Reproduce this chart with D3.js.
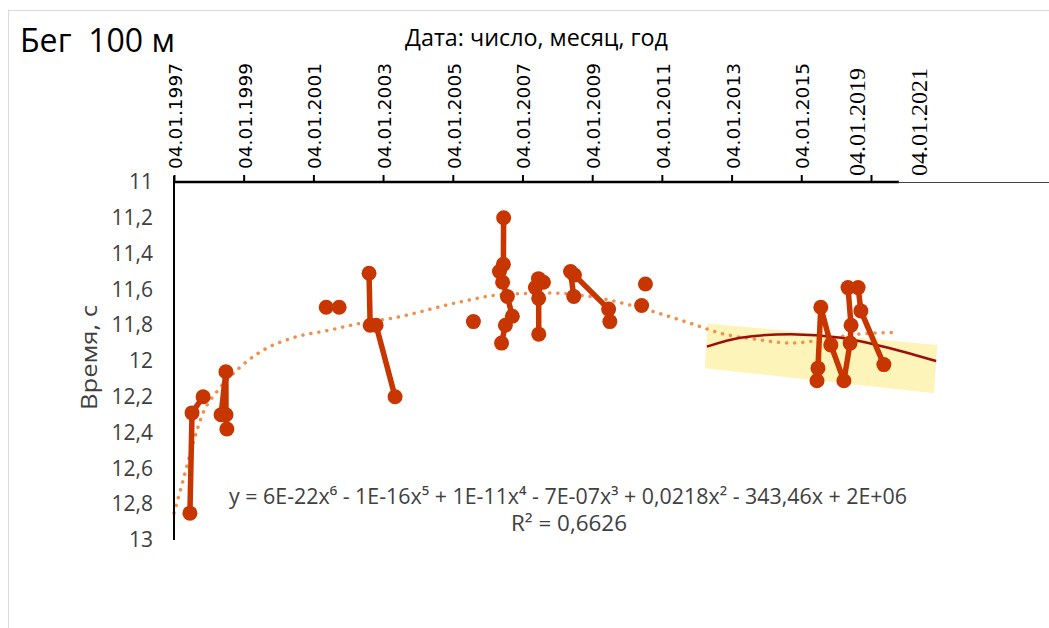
<!DOCTYPE html>
<html lang="ru">
<head>
<meta charset="utf-8">
<style>
  body { margin: 0; background: #fff; }
  svg { display: block; }
  .lbl { font-family: "Open Sans", "Liberation Sans", sans-serif; white-space: pre; }
</style>
<script src="https://d3js.org/d3.v7.min.js"></script>
</head>
<body>
<svg width="1049" height="628"></svg>
<script>
// results: date of the race and time, groups = separate line pieces
var dates = [
  "20.06.1997","12.07.1997","05.11.1997",
  "12.05.1998","02.07.1998","03.07.1998","12.07.1998",
  "18.05.2001","01.10.2001",
  "10.08.2002","22.08.2002","23.10.2002","10.05.2003",
  "08.08.2005",
  "30.05.2006","09.07.2006","20.09.2006","30.07.2006","10.06.2006","08.05.2006","18.06.2006","21.06.2006",
  "12.08.2007","21.06.2007","20.05.2007","23.06.2007","24.06.2007",
  "25.06.2008","22.05.2008","02.07.2008","25.06.2009","08.07.2009",
  "16.07.2010",
  "06.06.2010",
  "18.06.2015","28.06.2015","28.07.2015","10.11.2015","26.03.2016","30.05.2016","09.06.2016","08.05.2016","22.08.2016","20.09.2016","19.05.2017"
];
var times = [
  12.85, 12.29, 12.20,
  12.30, 12.06, 12.30, 12.38,
  11.70, 11.70,
  11.51, 11.80, 11.80, 12.20,
  11.78,
  11.90, 11.80, 11.75, 11.64, 11.56, 11.50, 11.46, 11.20,
  11.56, 11.54, 11.59, 11.65, 11.85,
  11.64, 11.50, 11.52, 11.71, 11.78,
  11.57,
  11.69,
  12.11, 12.04, 11.70, 11.91, 12.11, 11.90, 11.80, 11.59, 11.59, 11.72, 12.02
];
var groups = [
  1,1,1, 2,2,2,2, 3,3, 4,4,4,4, 5,
  6,6,6,6,6,6,6,6, 7,7,7,7,7, 8,8,8,8,8, 9, 10,
  11,11,11,11,11,11,11,11,11,11,11
];

// polynomial trend (6th order)
var trendDates = ["04.01.1997","08.04.1997","12.07.1997","05.11.1997","01.04.1998","27.10.1998","25.06.1999",
  "05.06.2000","30.05.2001","08.05.2002","20.04.2003","25.03.2005","19.05.2006","23.10.2007","01.04.2009",
  "09.09.2010","03.11.2011","16.10.2012","04.10.2013","16.09.2014","28.08.2015","22.08.2016","15.10.2017"];
var trendTimes = [12.85,12.67,12.48,12.29,12.17,12.05,11.95,11.87,11.83,11.79,11.76,11.67,11.63,11.62,11.65,
  11.72,11.79,11.85,11.88,11.90,11.88,11.85,11.84];

// last period trend (dark red) and highlight band
var fitDates = ["20.04.2012","08.04.2013","16.09.2014","25.02.2016","31.07.2017","18.11.2018"];
var fitTimes = [11.92, 11.87, 11.85, 11.87, 11.93, 12.00];
var bandDates = ["01.05.2012","28.11.2018","27.10.2018","28.03.2012"];
var bandTimes = [11.79, 11.91, 12.18, 12.04];

var tickDates = ["04.01.1997","04.01.1999","04.01.2001","04.01.2003","04.01.2005","04.01.2007",
  "04.01.2009","04.01.2011","04.01.2013","04.01.2015","04.01.2017"];
var tickLabels = ["04.01.1997","04.01.1999","04.01.2001","04.01.2003","04.01.2005","04.01.2007",
  "04.01.2009","04.01.2011","04.01.2013","04.01.2015",""];
var extraLabels = ["04.01.2019","04.01.2021"];
var extraLabelDates = ["01.08.2016","22.05.2018"];
var yTicks = [11, 11.2, 11.4, 11.6, 11.8, 12, 12.2, 12.4, 12.6, 12.8, 13];

var parse = d3.timeParse("%d.%m.%Y");
var ru = d3.formatLocale({decimal: ",", thousands: " ", grouping: [3], currency: ["", ""]});
var fmt = ru.format(".1~f");

var svg = d3.select("svg");

// chart area border
svg.append("rect").attr("x", 8.5).attr("y", 10.5).attr("width", 1100).attr("height", 700)
  .attr("fill", "#fff").attr("stroke", "#d9d9d9");

var x = d3.scaleTime().domain([parse("04.01.1997"), parse("04.01.2017")]).range([174, 871]);
var y = d3.scaleLinear().domain([11, 13]).range([182, 540]);
var xEnd = parse("23.10.2017");

var data = dates.map(function(d, i) { return {date: parse(d), t: times[i], g: groups[i]}; });

// band
svg.append("path")
  .datum(bandDates.map(function(d, i) { return [x(parse(d)), y(bandTimes[i])]; }))
  .attr("d", d3.line().curve(d3.curveLinearClosed))
  .attr("fill", "#fcf4b8");

// dotted trend
svg.append("path")
  .datum(trendDates.map(function(d, i) { return {date: parse(d), t: trendTimes[i]}; }))
  .attr("d", d3.line().curve(d3.curveMonotoneX).x(function(d) { return x(d.date); }).y(function(d) { return y(d.t); }))
  .attr("fill", "none").attr("stroke", "#f0904a").attr("stroke-width", 3.5)
  .attr("stroke-linecap", "round").attr("stroke-dasharray", "0.1 8");

// dark red trend
svg.append("path")
  .datum(fitDates.map(function(d, i) { return {date: parse(d), t: fitTimes[i]}; }))
  .attr("d", d3.line().curve(d3.curveMonotoneX).x(function(d) { return x(d.date); }).y(function(d) { return y(d.t); }))
  .attr("fill", "none").attr("stroke", "#a00c0c").attr("stroke-width", 2.5);

// axes
var xAxis = svg.append("g").attr("transform", "translate(0,182)")
  .call(d3.axisTop(x).tickValues(tickDates.map(parse)).tickSize(7)
    .tickFormat(function(d, i) { return tickLabels[i]; }));
xAxis.select(".domain").remove();
xAxis.selectAll(".tick line").attr("stroke", "#000").attr("stroke-width", 2);
xAxis.selectAll("text")
  .attr("transform", "rotate(-90)").attr("text-anchor", "start")
  .attr("x", 13).attr("y", 0).attr("dy", "0.4em")
  .attr("font-family", "DejaVu Sans, Verdana, sans-serif").attr("font-size", 18.5)
  .attr("fill", "#000");
xAxis.append("line").attr("x1", x.range()[0] - 1).attr("x2", x(xEnd)).attr("y1", 0).attr("y2", 0)
  .attr("stroke", "#000").attr("stroke-width", 2.5);
xAxis.append("line").attr("x1", x(xEnd)).attr("x2", 1049).attr("y1", 0.5).attr("y2", 0.5)
  .attr("stroke", "#444").attr("stroke-width", 1.2);

svg.selectAll(".xextra").data(extraLabels).enter().append("text")
  .attr("class", "xextra")
  .attr("transform", function(d, i) { return "translate(" + x(parse(extraLabelDates[i])) + ",176) rotate(-90)"; })
  .attr("dy", "0.35em")
  .attr("font-family", "Liberation Serif, Times New Roman, serif").attr("font-size", 24)
  .attr("fill", "#000")
  .text(function(d) { return d; });

var yAxis = svg.append("g").attr("transform", "translate(174,0)")
  .call(d3.axisLeft(y).tickValues(yTicks).tickSize(0).tickPadding(21).tickFormat(fmt));
yAxis.select(".domain").remove();
yAxis.selectAll("text").attr("class", "lbl").attr("font-size", 21).attr("fill", "#404040");
yAxis.append("line").attr("x1", 0).attr("x2", 0).attr("y1", y(11) - 6).attr("y2", y(13))
  .attr("stroke", "#000").attr("stroke-width", 2);

// data lines and markers
var line = d3.line().x(function(d) { return x(d.date); }).y(function(d) { return y(d.t); });
svg.selectAll(".run").data(Array.from(d3.group(data, function(d) { return d.g; }).values()))
  .enter().append("path").attr("class", "run")
  .attr("d", line).attr("fill", "none").attr("stroke", "#c83600")
  .attr("stroke-width", 5.5).attr("stroke-linejoin", "round");
svg.selectAll(".dot").data(data).enter().append("circle").attr("class", "dot")
  .attr("cx", function(d) { return x(d.date); }).attr("cy", function(d) { return y(d.t); })
  .attr("r", 7.5).attr("fill", "#c83600");

// texts
svg.append("text").attr("class", "lbl").attr("x", 20).attr("y", 52)
  .attr("font-size", 32).attr("textLength", 155).attr("lengthAdjust", "spacingAndGlyphs")
  .attr("fill", "#000").text("Бег  100 м");
svg.append("text").attr("class", "lbl").attr("x", 405).attr("y", 46)
  .attr("font-size", 23).attr("textLength", 263).attr("lengthAdjust", "spacingAndGlyphs")
  .attr("fill", "#000").text("Дата: число, месяц, год");
svg.append("text").attr("class", "lbl").attr("transform", "translate(97,410) rotate(-90)")
  .attr("font-size", 22).attr("textLength", 105).attr("lengthAdjust", "spacingAndGlyphs")
  .attr("fill", "#404040").text("Время, с");

svg.append("text").attr("class", "lbl").attr("x", 229).attr("y", 504)
  .attr("font-size", 21).attr("textLength", 678).attr("lengthAdjust", "spacingAndGlyphs")
  .attr("fill", "#404040")
  .text("y = 6E-22x⁶ - 1E-16x⁵ + 1E-11x⁴ - 7E-07x³ + 0,0218x² - 343,46x + 2E+06");
svg.append("text").attr("class", "lbl").attr("x", 511).attr("y", 531)
  .attr("font-size", 21).attr("textLength", 116).attr("lengthAdjust", "spacingAndGlyphs")
  .attr("fill", "#404040").text("R² = 0,6626");
</script>
</body>
</html>
